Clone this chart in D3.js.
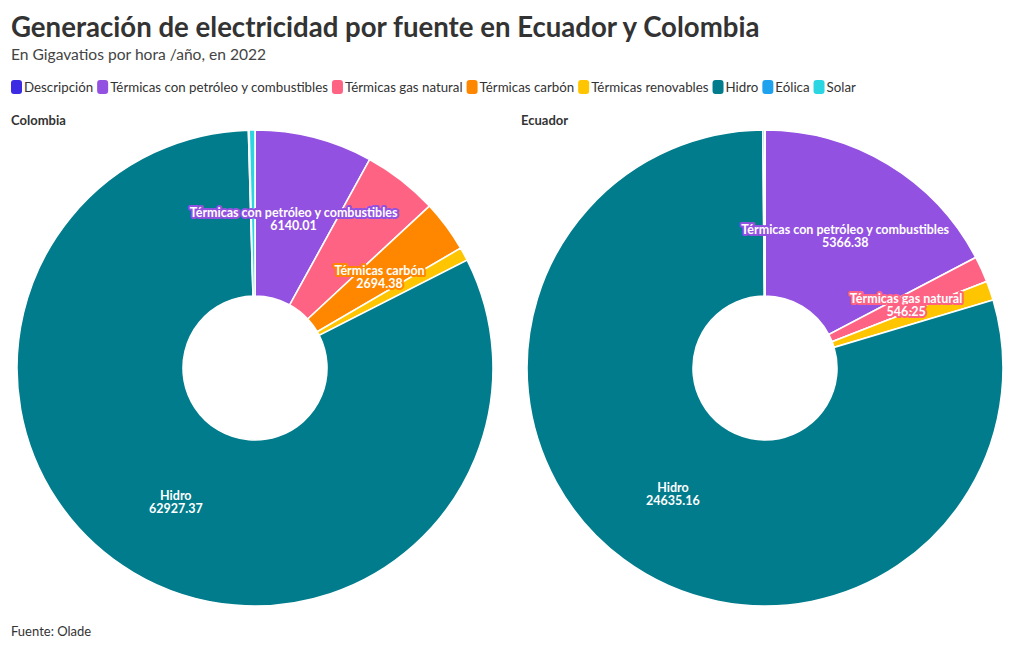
<!DOCTYPE html>
<html>
<head>
<meta charset="utf-8">
<script src="https://cdn.jsdelivr.net/npm/d3@7"></script>
<style>
  body { margin: 0; background: #fff; }
  svg { display: block; font-family: "Source Sans Pro", Lato, "Noto Sans", sans-serif; }
</style>
</head>
<body>
<svg id="chart" width="1020" height="650"></svg>
<script>
const categories = ["Descripción", "Térmicas con petróleo y combustibles", "Térmicas gas natural", "Térmicas carbón", "Térmicas renovables", "Hidro", "Eólica", "Solar"];
const colors = ["#3b2be3", "#9351e1", "#ff6384", "#ff8700", "#ffc500", "#017c8c", "#1fa2ee", "#2cd5e2"];
const countries = ["Colombia", "Ecuador"];
const colombiaValues = [0, 6140.01, 3900, 2694.38, 700, 62927.37, 40, 300];
const ecuadorValues = [0, 5366.38, 546.25, 0, 405, 24635.16, 40, 5];
const seriesValues = [colombiaValues, ecuadorValues];

const W = 1020, H = 650;
const svg = d3.select("#chart");

// Title block
svg.append("text").attr("x", 11).attr("y", 37)
  .attr("font-size", 27.6).attr("font-weight", 700).attr("fill", "#333")
  .text("Generación de electricidad por fuente en Ecuador y Colombia");
svg.append("text").attr("x", 11).attr("y", 60)
  .attr("font-size", 15.6).attr("fill", "#444")
  .text("En Gigavatios por hora /año, en 2022");

// Legend
const color = d3.scaleOrdinal().domain(categories).range(colors);
const legend = svg.append("g").attr("transform", "translate(11,87)");
let lx = 0;
categories.forEach(c => {
  const g = legend.append("g").attr("transform", `translate(${lx},0)`);
  g.append("rect").attr("x", 0).attr("y", -7).attr("width", 11).attr("height", 14)
    .attr("rx", 3).attr("fill", color(c));
  const t = g.append("text").attr("x", 13).attr("y", 4.5)
    .attr("font-size", 13.3).attr("fill", "#333").text(c);
  lx += 13 + t.node().getComputedTextLength() + 4;
});

// Pies
const panelW = W / 2;
const cy = 368, outerR = 238, innerR = 72;
const pie = d3.pie().sort(null).value(d => d.value);
const arc = d3.arc().innerRadius(innerR).outerRadius(outerR);
const fmt = d3.format(".2f");

countries.forEach((country, i) => {
  const x0 = i * panelW;
  svg.append("text").attr("x", x0 + 11).attr("y", 125)
    .attr("font-size", 13).attr("font-weight", 700).attr("fill", "#333").text(country);

  const data = categories.map((c, j) => ({ cat: c, value: seriesValues[i][j] }));
  const arcs = pie(data);
  const g = svg.append("g").attr("transform", `translate(${x0 + panelW / 2},${cy})`);
  g.selectAll("path").data(arcs).join("path")
    .attr("d", arc)
    .attr("fill", d => color(d.data.cat))
    .attr("stroke", "#fff").attr("stroke-width", 1.6);

  const placed = [];
  arcs.forEach(d => {
    if (d.endAngle - d.startAngle < 0.08) return;
    const [cx, cyy] = arc.centroid(d);
    const lg = g.append("g").attr("transform", `translate(${cx},${cyy})`);
    const lines = [d.data.cat, fmt(d.data.value)];
    lines.forEach((s, k) => {
      lg.append("text").attr("text-anchor", "middle")
        .attr("y", k === 0 ? -1 : 12)
        .attr("font-size", 12.5).attr("font-weight", 700)
        .attr("fill", "#fff")
        .attr("stroke", color(d.data.cat)).attr("stroke-width", 4)
        .attr("stroke-linejoin", "round").attr("paint-order", "stroke")
        .text(s);
    });
    const bb = lg.node().getBBox();
    const box = { x1: cx + bb.x - 2, x2: cx + bb.x + bb.width + 2, y1: cyy + bb.y - 2, y2: cyy + bb.y + bb.height + 2 };
    const hit = placed.some(p => !(box.x2 < p.x1 || box.x1 > p.x2 || box.y2 < p.y1 || box.y1 > p.y2));
    if (hit) lg.remove(); else placed.push(box);
  });
});

// Footer
svg.append("text").attr("x", 11).attr("y", 636)
  .attr("font-size", 13).attr("fill", "#333").text("Fuente: Olade");
</script>
</body>
</html>
